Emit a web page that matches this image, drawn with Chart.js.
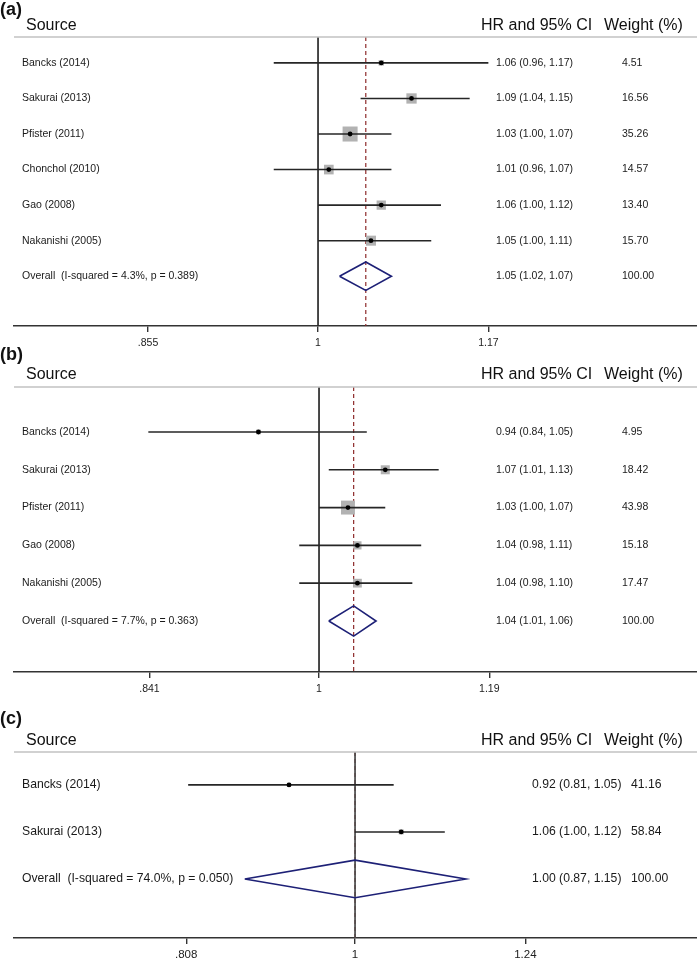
<!DOCTYPE html>
<html>
<head>
<meta charset="utf-8">
<title>Forest plots</title>
<script src="https://cdn.jsdelivr.net/npm/chart.js@4.4.0/dist/chart.umd.min.js"></script>
<style>
    html, body { margin: 0; padding: 0; background: #fff; }
    body { width: 697px; height: 958px; position: relative; overflow: hidden; }
    canvas { position: absolute; left: 0; }
</style>
</head>
<body>
<canvas id="panelA" width="697" height="352" style="top:0px"></canvas>
<canvas id="panelB" width="697" height="372" style="top:340px"></canvas>
<canvas id="panelC" width="697" height="258" style="top:700px"></canvas>
<script>
// Panel (a)
const studiesA = ['Bancks (2014)', 'Sakurai (2013)', 'Pfister (2011)', 'Chonchol (2010)', 'Gao (2008)', 'Nakanishi (2005)'];
const hrA = [1.06, 1.09, 1.03, 1.01, 1.06, 1.05];
const lowA = [0.96, 1.04, 1.00, 0.96, 1.00, 1.00];
const highA = [1.17, 1.15, 1.07, 1.07, 1.12, 1.11];
const weightA = [4.51, 16.56, 35.26, 14.57, 13.40, 15.70];
const overallA = [1.045, 1.02, 1.07];
const overallTextA = ['Overall  (I-squared = 4.3%, p = 0.389)', '1.05 (1.02, 1.07)', '100.00'];
const ticksA = [0.855, 1, 1.17];
const tickLabelsA = ['.855', '1', '1.17'];

// Panel (b)
const studiesB = ['Bancks (2014)', 'Sakurai (2013)', 'Pfister (2011)', 'Gao (2008)', 'Nakanishi (2005)'];
const hrB = [0.94, 1.07, 1.03, 1.04, 1.04];
const lowB = [0.84, 1.01, 1.00, 0.98, 0.98];
const highB = [1.05, 1.13, 1.07, 1.11, 1.10];
const weightB = [4.95, 18.42, 43.98, 15.18, 17.47];
const overallB = [1.036, 1.01, 1.06];
const overallTextB = ['Overall  (I-squared = 7.7%, p = 0.363)', '1.04 (1.01, 1.06)', '100.00'];
const ticksB = [0.841, 1, 1.19];
const tickLabelsB = ['.841', '1', '1.19'];

// Panel (c)
const studiesC = ['Bancks (2014)', 'Sakurai (2013)'];
const hrC = [0.92, 1.06];
const lowC = [0.81, 1.00];
const highC = [1.05, 1.12];
const weightC = [41.16, 58.84];
const overallC = [1.00, 0.87, 1.15];
const overallTextC = ['Overall  (I-squared = 74.0%, p = 0.050)', '1.00 (0.87, 1.15)', '100.00'];
const ticksC = [0.808, 1, 1.24];
const tickLabelsC = ['.808', '1', '1.24'];

const FONT = '"Liberation Sans", Arial, Helvetica, sans-serif';
Chart.defaults.font.family = FONT;

// Draws header, rule and the text columns
function textPlugin(p) {
    return {
        id: 'forestText',
        afterDraw(chart) {
            const ctx = chart.ctx;
            const area = chart.chartArea;
            const yScale = chart.scales.y;
            ctx.save();
            ctx.strokeStyle = '#c2c2c2';
            ctx.lineWidth = 1.5;
            ctx.beginPath();
            ctx.moveTo(area.left, area.top);
            ctx.lineTo(area.right, area.top);
            ctx.stroke();

            ctx.fillStyle = '#111';
            ctx.textBaseline = 'alphabetic';
            ctx.font = 'bold 18px ' + FONT;
            ctx.fillText(p.tag, 0, p.tagY);
            ctx.font = '16px ' + FONT;
            ctx.fillText('Source', 26, p.headY);
            ctx.fillText('HR and 95% CI', 481, p.headY);
            ctx.fillText('Weight (%)', 604, p.headY);

            ctx.font = p.rowFont + 'px ' + FONT;
            ctx.fillStyle = '#1a1a1a';
            ctx.textBaseline = 'middle';
            p.studies.forEach((name, i) => {
                const y = yScale.getPixelForValue(i);
                ctx.fillText(name, 22, y);
                ctx.fillText(p.hr[i].toFixed(2) + ' (' + p.low[i].toFixed(2) + ', ' + p.high[i].toFixed(2) + ')', p.ciX, y);
                ctx.fillText(p.weight[i].toFixed(2), p.wX, y);
            });
            const yo = yScale.getPixelForValue(p.studies.length);
            ctx.fillText(p.overallText[0], 22, yo);
            ctx.fillText(p.overallText[1], p.ciX, yo);
            ctx.fillText(p.overallText[2], p.wX, yo);
            ctx.restore();
        }
    };
}

function buildPanel(canvasId, p) {
    const n = p.studies.length;
    const datasets = [];

    // pooled estimate, dashed
    datasets.push({
        data: [{x: p.overall[0], y: p.yMin}, {x: p.overall[0], y: p.yMax}],
        showLine: true, borderColor: '#8e2b2b', borderWidth: 1.2, borderDash: [4, 3],
        pointRadius: 0, order: 6
    });
    // line of no effect
    datasets.push({
        data: [{x: 1, y: p.yMin}, {x: 1, y: p.yMax}],
        showLine: true, borderColor: p.nullColor, borderWidth: 1.7,
        pointRadius: 0, order: 5
    });
    // weight boxes
    datasets.push({
        data: p.hr.map((v, i) => ({x: v, y: i})),
        pointStyle: 'rect',
        pointRadius: p.weight.map(w => p.boxScale * Math.sqrt(w) / Math.SQRT2),
        backgroundColor: '#b2b2b2', borderWidth: 0, order: 4
    });
    // confidence intervals
    p.hr.forEach((v, i) => {
        datasets.push({
            data: [{x: p.low[i], y: i}, {x: p.high[i], y: i}],
            showLine: true, borderColor: '#262626', borderWidth: 1.6,
            pointRadius: 0, order: 3
        });
    });
    // overall diamond
    const h = 0.4;
    datasets.push({
        data: [
            {x: p.overall[1], y: n},
            {x: p.overall[0], y: n - h},
            {x: p.overall[2], y: n},
            {x: p.overall[0], y: n + h},
            {x: p.overall[1], y: n}
        ],
        showLine: true, borderColor: '#1d2076', borderWidth: 1.6, tension: 0,
        pointRadius: 0, fill: false, order: 2
    });
    // point estimates
    datasets.push({
        data: p.hr.map((v, i) => ({x: v, y: i})),
        pointStyle: 'circle', pointRadius: 2.4,
        backgroundColor: '#000', borderWidth: 0, order: 1
    });

    return new Chart(document.getElementById(canvasId), {
        type: 'scatter',
        data: {datasets: datasets},
        options: {
            responsive: false,
            animation: false,
            events: [],
            layout: {autoPadding: false, padding: {top: p.padTop, left: 14, right: 0, bottom: p.padBottom}},
            plugins: {legend: {display: false}, tooltip: {enabled: false}},
            scales: {
                x: {
                    type: 'logarithmic',
                    bounds: 'data',
                    min: p.xMin,
                    max: p.xMax,
                    afterBuildTicks: s => { s.ticks = p.ticks.map(v => ({value: v})); },
                    afterFit: s => {
                        s.height = p.axisHeight;
                        s.paddingLeft = 0;
                        s.paddingRight = 0;
                    },
                    ticks: {
                        autoSkip: false, maxRotation: 0, padding: p.tickPad, color: '#222',
                        font: {size: p.tickFont},
                        callback: (v, i) => p.tickLabels[i]
                    },
                    grid: {drawOnChartArea: false, drawTicks: true, tickLength: 6, color: '#333', lineWidth: 1.4},
                    border: {display: true, color: '#333', width: 1.6}
                },
                y: {type: 'linear', reverse: true, min: p.yMin, max: p.yMax, display: false}
            }
        },
        plugins: [textPlugin(p)]
    });
}

buildPanel('panelA', {
    tag: '(a)', tagY: 15, headY: 30, rowFont: 10.5, tickFont: 10.5, tickPad: 5, ciX: 496, wX: 622,
    studies: studiesA, hr: hrA, low: lowA, high: highA, weight: weightA,
    overall: overallA, overallText: overallTextA, ticks: ticksA, tickLabels: tickLabelsA,
    xMin: 0.7556, xMax: 1.4181, yMin: -0.729, yMax: 7.40,
    padTop: 37, padBottom: 0, axisHeight: 26, boxScale: 2.53, nullColor: '#2b2b2b'
});

buildPanel('panelB', {
    tag: '(b)', tagY: 20, headY: 39, rowFont: 10.5, tickFont: 10.5, tickPad: 5, ciX: 496, wX: 622,
    studies: studiesB, hr: hrB, low: lowB, high: highB, weight: weightB,
    overall: overallB, overallText: overallTextB, ticks: ticksB, tickLabels: tickLabelsB,
    xMin: 0.7323, xMax: 1.4712, yMin: -1.19, yMax: 6.35,
    padTop: 47, padBottom: 14, axisHeight: 26, boxScale: 2.1, nullColor: '#2b2b2b'
});

buildPanel('panelC', {
    tag: '(c)', tagY: 24, headY: 45, rowFont: 12.2, tickFont: 11.5, tickPad: 4, ciX: 532, wX: 631,
    studies: studiesC, hr: hrC, low: lowC, high: highC, weight: weightC,
    overall: overallC, overallText: overallTextC, ticks: ticksC, tickLabels: tickLabelsC,
    xMin: 0.6501, xMax: 1.540, yMin: -0.70, yMax: 3.255,
    padTop: 52, padBottom: 0, axisHeight: 20, boxScale: 0.65, nullColor: '#4a4a4a'
});
</script>
</body>
</html>
